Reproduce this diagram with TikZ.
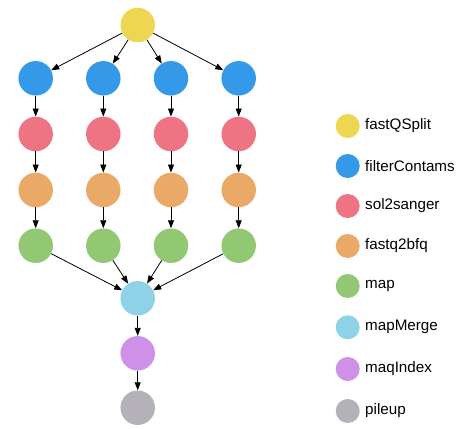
\documentclass[tikz,border=0pt]{standalone}
\usepackage{fontspec}
\setmainfont{Liberation Sans}
\usetikzlibrary{arrows.meta}
\definecolor{cyel}{RGB}{237,214,80}
\definecolor{cblu}{RGB}{51,153,232}
\definecolor{cred}{RGB}{238,116,131}
\definecolor{cora}{RGB}{235,169,103}
\definecolor{cgre}{RGB}{146,200,115}
\definecolor{clbl}{RGB}{143,210,232}
\definecolor{cpur}{RGB}{207,145,232}
\definecolor{cgry}{RGB}{180,178,184}
\begin{document}
\begin{tikzpicture}[x=1pt,y=-1pt,
  job/.style={circle,inner sep=0pt,minimum size=34.5pt,draw=none},
  leg/.style={circle,inner sep=0pt,minimum size=24pt,draw=none},
  legtxt/.style={anchor=west,inner sep=0pt,font=\fontsize{15.2}{18}\selectfont},
  edge/.style={draw=black,line width=0.8pt,-{Triangle[length=8pt,width=6pt]}}]
\useasboundingbox (0,0) rectangle (465,428);
\node[job,fill=cyel] (q) at (137.7,25) {};
\foreach \i/\x in {1/35.7,2/103.3,3/171,4/238.7}{
  \node[job,fill=cblu] (f\i) at (\x,78.3) {};
  \node[job,fill=cred] (s\i) at (\x,134) {};
  \node[job,fill=cora] (b\i) at (\x,190) {};
  \node[job,fill=cgre] (m\i) at (\x,245.7) {};
}
\node[job,fill=clbl] (mm) at (137.7,298.3) {};
\node[job,fill=cpur] (mi) at (137.7,353.3) {};
\node[job,fill=cgry] (pu) at (137.7,407.7) {};
\foreach \i in {1,...,4}{
  \path[edge] (q) -- (f\i);
  \path[edge] (f\i) -- (s\i);
  \path[edge] (s\i) -- (b\i);
  \path[edge] (b\i) -- (m\i);
  \path[edge] (m\i) -- (mm);
}
\path[edge] (mm) -- (mi);
\path[edge] (mi) -- (pu);
% legend
\foreach \n/\c/\y/\t in {l1/cyel/126/fastQSplit,l2/cblu/166/filterContams,l3/cred/206/sol2sanger,l4/cora/246/fastq2bfq,l5/cgre/286/map,l6/clbl/327.3/mapMerge,l7/cpur/369/maqIndex,l8/cgry/411/pileup}{
  \node[leg,fill=\c] (\n) at (347.7,\y) {};
  \node[legtxt] (\n t) at (365,\y) {\t};
}
\end{tikzpicture}
\end{document}
